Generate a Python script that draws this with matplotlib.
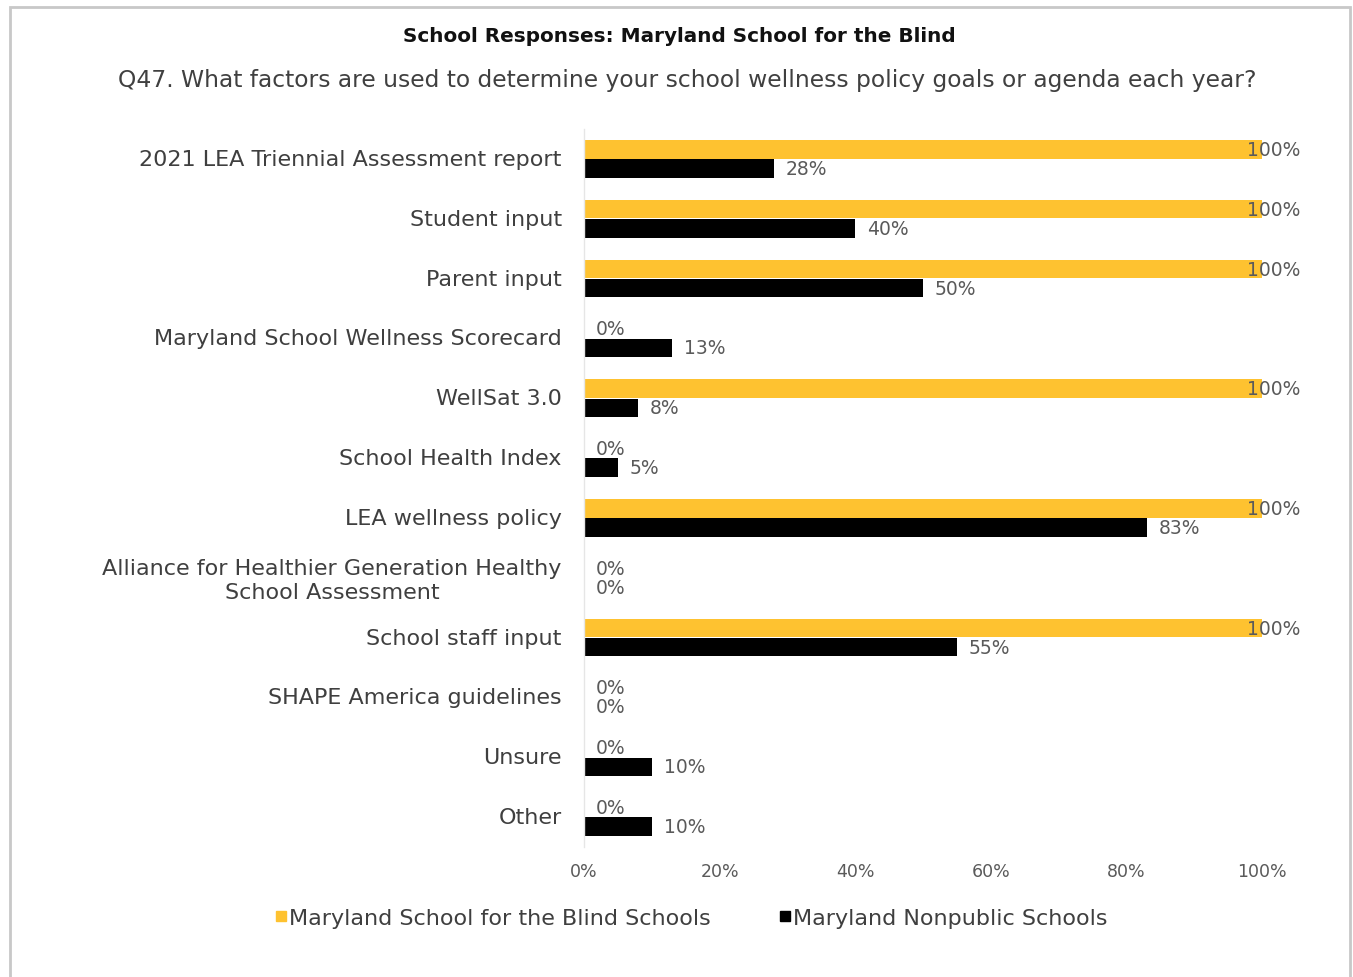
import matplotlib
matplotlib.use("Agg")
import matplotlib.pyplot as plt
from matplotlib.lines import Line2D
from matplotlib.patches import Rectangle
import matplotlib.transforms as mtransforms

categories = [
    "2021 LEA Triennial Assessment report",
    "Student input",
    "Parent input",
    "Maryland School Wellness Scorecard",
    "WellSat 3.0",
    "School Health Index",
    "LEA wellness policy",
    "Alliance for Healthier Generation Healthy\nSchool Assessment",
    "School staff input",
    "SHAPE America guidelines",
    "Unsure",
    "Other",
]
msb_values = [100, 100, 100, 0, 100, 0, 100, 0, 100, 0, 0, 0]
nonpublic_values = [28, 40, 50, 13, 8, 5, 83, 0, 55, 0, 10, 10]
series_names = ["Maryland School for the Blind Schools", "Maryland Nonpublic Schools"]
xticks = [0, 20, 40, 60, 80, 100]
xtick_labels = ["0%", "20%", "40%", "60%", "80%", "100%"]

title = "School Responses: Maryland School for the Blind"
subtitle = "Q47. What factors are used to determine your school wellness policy goals or agenda each year?"

YELLOW = "#FEC230"
BLACK = "#000000"
LABEL_C = "#3f3f3f"
TICK_C = "#5a5a5a"

W, H = 1353, 978
fig = plt.figure(figsize=(W / 100, H / 100), dpi=100)
ax = fig.add_axes([584 / W, 1 - 848 / H, (1262 - 584) / W, (848 - 130) / H])

y = list(range(len(categories)))
bh = 0.31
off = 0.16
ax.barh([v - off for v in y], msb_values, height=bh, color=YELLOW)
ax.barh([v + off for v in y], nonpublic_values, height=bh, color=BLACK)

ax.set_xlim(0, 100)
ax.set_ylim(len(categories) - 0.5, -0.5)
ax.set_yticks(y)
ax.set_yticklabels(categories, fontsize=16, color=LABEL_C, linespacing=1.25,
                   multialignment="center")
ax.set_xticks(xticks)
ax.set_xticklabels(xtick_labels, fontsize=12.5, color=TICK_C)
ax.tick_params(axis="both", length=0)
ax.tick_params(axis="y", pad=16)
ax.tick_params(axis="x", pad=11)
for lbl in ax.get_yticklabels():
    lbl.set_transform(lbl.get_transform() + mtransforms.ScaledTranslation(0, 2 / 100, fig.dpi_scale_trans))
for s in ["top", "right", "bottom"]:
    ax.spines[s].set_visible(False)
ax.spines["left"].set_color("#e6e6e6")
ax.spines["left"].set_linewidth(1)

def label(xv, yv):
    if xv >= 100:
        tr = mtransforms.offset_copy(ax.transData, fig=fig, x=-15, y=0, units="dots")
    else:
        tr = mtransforms.offset_copy(ax.transData, fig=fig, x=12, y=0, units="dots")
    ax.text(xv, yv, f"{xv:g}%", transform=tr, va="center", ha="left",
            fontsize=13.5, color=TICK_C, clip_on=False)

for i in y:
    label(msb_values[i], i - off)
    label(nonpublic_values[i], i + off)

fig.text(679 / W, 1 - 37 / H, title, ha="center", va="center", fontsize=14.4,
         fontweight="bold", color="#111111")
fig.text(687 / W, 1 - 81 / H, subtitle, ha="center", va="center", fontsize=16.8,
         color="#404040")

handles = [
    Line2D([], [], marker="s", linestyle="none", markersize=7, color=YELLOW),
    Line2D([], [], marker="s", linestyle="none", markersize=7, color=BLACK),
]
fig.legend(handles, series_names, loc="center", bbox_to_anchor=(690 / W, 1 - 919 / H),
           ncol=2, frameon=False, fontsize=16, labelcolor=LABEL_C,
           handletextpad=0.0, columnspacing=3.0, handlelength=0.7)

fig.patches.append(Rectangle((10 / W, -0.02), (1350 - 10) / W, 1.02 - 8 / H,
                             transform=fig.transFigure, fill=False,
                             edgecolor="#c8c8c8", linewidth=2))

fig.savefig("out.png", dpi=100, facecolor="white")
